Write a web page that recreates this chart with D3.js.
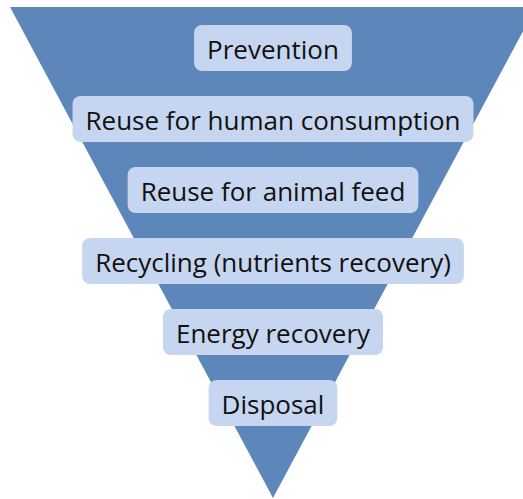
<!DOCTYPE html>
<html>
<head>
<meta charset="utf-8">
<script src="https://cdn.jsdelivr.net/npm/d3@7"></script>
<style>
  body { margin: 0; background: #fff; }
  .level-label { font-family: "Open Sans", "Noto Sans", sans-serif; fill: #111; }
</style>
</head>
<body>
<div id="chart"></div>
<script>
// Hierarchy levels, top (most preferred) to bottom
const levels = ["Prevention", "Reuse for human consumption", "Reuse for animal feed",
                "Recycling (nutrients recovery)", "Energy recovery", "Disposal"];

const width = 523, height = 499;
const cx = 273;

const svg = d3.select("#chart").append("svg")
    .attr("width", width)
    .attr("height", height);

// Funnel: inverted triangle
const yTri = d3.scaleLinear().domain([0, 1]).range([7, 498]);
const halfW = d3.scaleLinear().domain([0, 1]).range([263, 0]);
const pts = [
  [cx - halfW(0), yTri(0)],
  [cx + halfW(0), yTri(0)],
  [cx, yTri(1)]
];
svg.append("path")
    .attr("d", d3.line()(pts) + "Z")
    .attr("fill", "#5d87ba");

// Label boxes
const y = d3.scaleBand()
    .domain(levels)
    .range([25, 426])
    .paddingInner(0.352);

const g = svg.selectAll(".level")
    .data(levels)
    .join("g")
    .attr("class", "level");

const rects = g.append("rect")
    .attr("fill", "#c6d6f0")
    .attr("rx", 8)
    .attr("y", d => y(d))
    .attr("height", y.bandwidth());

const labels = g.append("text")
    .attr("class", "level-label")
    .attr("x", cx)
    .attr("y", d => y(d) + y.bandwidth() / 2 + 1)
    .attr("text-anchor", "middle")
    .attr("dominant-baseline", "central")
    .style("font-size", "26px")
    .text(d => d);

labels.each(function(d, i) {
  const w = this.getComputedTextLength();
  d3.select(rects.nodes()[i])
    .attr("x", cx - w / 2 - 13)
    .attr("width", w + 26);
});
</script>
</body>
</html>
